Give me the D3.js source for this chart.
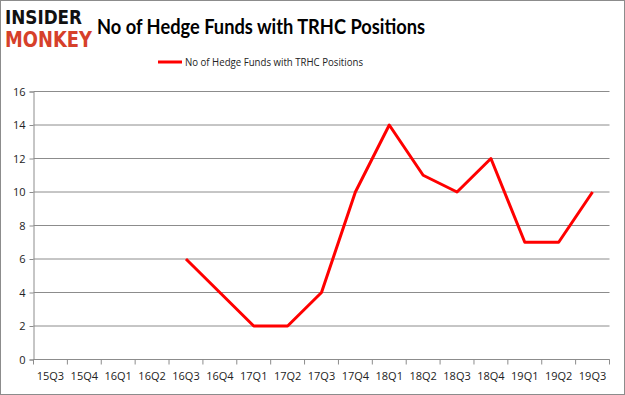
<!DOCTYPE html>
<html lang="en">
<head>
<meta charset="utf-8">
<title>TRHC hedge funds</title>
<script src="https://cdn.jsdelivr.net/npm/d3@7"></script>
<style>
  body { margin: 0; background: #fff; }
  svg { display: block; }
</style>
</head>
<body>
<script>
// quarters on the x axis
var quarters = ["15Q3","15Q4","16Q1","16Q2","16Q3","16Q4","17Q1","17Q2","17Q3","17Q4","18Q1","18Q2","18Q3","18Q4","19Q1","19Q2","19Q3"];
// number of hedge funds (null = no data)
var funds = [null, null, null, null, 6, 4, 2, 2, 4, 10, 14, 11, 10, 12, 7, 7, 10];
var yTicks = [0, 2, 4, 6, 8, 10, 12, 14, 16];
var seriesName = "No of Hedge Funds with TRHC Positions";

var w = 625, h = 395;
var plotLeft = 33.5, plotRight = 609.5, plotTop = 91.5, plotBottom = 359.5;

var svg = d3.select("body").append("svg")
  .attr("width", w)
  .attr("height", h);

// outer frame
svg.append("rect")
  .attr("x", 0.5).attr("y", 0.5)
  .attr("width", w - 1).attr("height", h - 1)
  .attr("fill", "#fff")
  .attr("stroke", "#8c8c8c");

// logo
svg.append("text")
  .attr("x", 5).attr("y", 24)
  .attr("font-family", "'DejaVu Sans'")
  .attr("font-weight", "bold")
  .attr("font-size", 20)
  .attr("textLength", 77)
  .attr("lengthAdjust", "spacingAndGlyphs")
  .attr("fill", "#111")
  .text("INSIDER");
svg.append("text")
  .attr("x", 5).attr("y", 47)
  .attr("font-family", "'DejaVu Sans'")
  .attr("font-weight", "bold")
  .attr("font-size", 22)
  .attr("textLength", 87)
  .attr("lengthAdjust", "spacingAndGlyphs")
  .attr("fill", "#d6402a")
  .text("MONKEY");

// title
svg.append("text")
  .attr("x", 97).attr("y", 34)
  .attr("font-family", "Lato, 'Open Sans', sans-serif")
  .attr("font-weight", "bold")
  .attr("font-size", 21)
  .attr("textLength", 328)
  .attr("lengthAdjust", "spacingAndGlyphs")
  .attr("fill", "#000")
  .text(seriesName);

// legend
svg.append("line")
  .attr("x1", 158).attr("x2", 182)
  .attr("y1", 62).attr("y2", 62)
  .attr("stroke", "#ff0000")
  .attr("stroke-width", 3);
svg.append("text")
  .attr("x", 185).attr("y", 66)
  .attr("font-family", "'Open Sans', sans-serif")
  .attr("font-size", 11)
  .attr("textLength", 178)
  .attr("lengthAdjust", "spacingAndGlyphs")
  .attr("fill", "#222")
  .text(seriesName);

// scales
var xScale = d3.scaleBand()
  .domain(quarters)
  .range([plotLeft, plotRight]);

var yScale = d3.scaleLinear()
  .domain([0, 16])
  .range([plotBottom, plotTop]);

// gridlines
svg.append("g")
  .selectAll("line")
  .data(yTicks)
  .enter()
  .append("line")
  .attr("x1", plotLeft).attr("x2", plotRight)
  .attr("y1", function(d) { return yScale(d); })
  .attr("y2", function(d) { return yScale(d); })
  .attr("stroke", "#8c8c8c")
  .attr("stroke-width", 1);

// y axis
var yAxis = d3.axisLeft(yScale)
  .tickValues(yTicks)
  .tickSize(4)
  .tickPadding(4);
var gy = svg.append("g")
  .attr("transform", "translate(" + plotLeft + ",0)")
  .call(yAxis);
gy.select(".domain").attr("stroke", "#8c8c8c");
gy.selectAll(".tick line").attr("stroke", "#8c8c8c");
gy.selectAll("text")
  .attr("font-family", "'Open Sans', sans-serif")
  .attr("font-size", 11)
  .attr("fill", "#222");

// x axis, ticks on band boundaries
var gx = svg.append("g")
  .attr("transform", "translate(0," + plotBottom + ")");
gx.append("line")
  .attr("x1", plotLeft).attr("x2", plotRight)
  .attr("stroke", "#8c8c8c");
gx.selectAll(".xtick")
  .data(quarters.concat(["end"]))
  .enter()
  .append("line")
  .attr("x1", function(d, i) { return plotLeft + i * xScale.bandwidth(); })
  .attr("x2", function(d, i) { return plotLeft + i * xScale.bandwidth(); })
  .attr("y1", 0).attr("y2", 5)
  .attr("stroke", "#8c8c8c");
gx.selectAll(".xlabel")
  .data(quarters)
  .enter()
  .append("text")
  .attr("x", function(d) { return xScale(d) + xScale.bandwidth() / 2; })
  .attr("y", 20)
  .attr("text-anchor", "middle")
  .attr("font-family", "'Open Sans', sans-serif")
  .attr("font-size", 11)
  .attr("fill", "#222")
  .text(function(d) { return d; });

// line
var pts = quarters.map(function(q, i) { return { q: q, v: funds[i] }; });
var line = d3.line()
  .defined(function(d) { return d.v !== null; })
  .x(function(d) { return xScale(d.q) + xScale.bandwidth() / 2; })
  .y(function(d) { return yScale(d.v); });

svg.append("path")
  .attr("d", line(pts))
  .attr("fill", "none")
  .attr("stroke", "#ff0000")
  .attr("stroke-width", 3)
  .attr("stroke-linejoin", "round");
</script>
</body>
</html>
